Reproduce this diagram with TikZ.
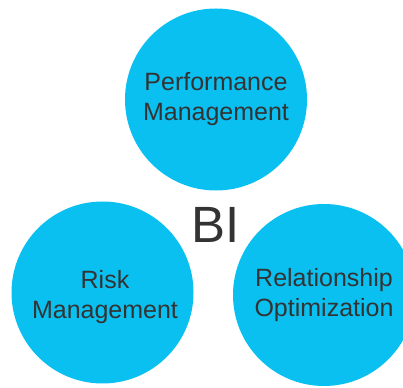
\documentclass[tikz,border=0pt]{standalone}
\usepackage{fontspec}
\setmainfont{Liberation Sans}
\usepackage{tikz}
\definecolor{bubblecyan}{HTML}{0AC0F0}
\definecolor{labelgray}{HTML}{333333}
\tikzset{
  bubble/.style={circle,fill=bubblecyan,minimum size=182pt,inner sep=0pt,
    align=center,text=labelgray,font=\fontsize{25}{30}\selectfont},
  caption/.style={align=center,text=labelgray,inner sep=0pt,
    font=\fontsize{25}{30}\selectfont},
  hub/.style={text=labelgray,inner sep=0pt,font=\fontsize{51}{51}\selectfont}
}

\begin{document}
\begin{tikzpicture}[x=1pt,y=1pt]
  \useasboundingbox (0,0) rectangle (403,387);
  \clip (0,0) rectangle (403,387);
  \node[bubble] (perf) at (216,287.5) {Performance\\Management};
  \node[bubble] (risk) at (102.5,94.5) {};
  \node[caption] (risktext) at ([xshift=2.5pt,yshift=-5pt]risk.center) {Risk\\Management};
  \node[bubble] (rel) at (324,92) {Relationship\\Optimization};
  \node[hub] (bi) at (216,162) {BI};
\end{tikzpicture}
\end{document}
